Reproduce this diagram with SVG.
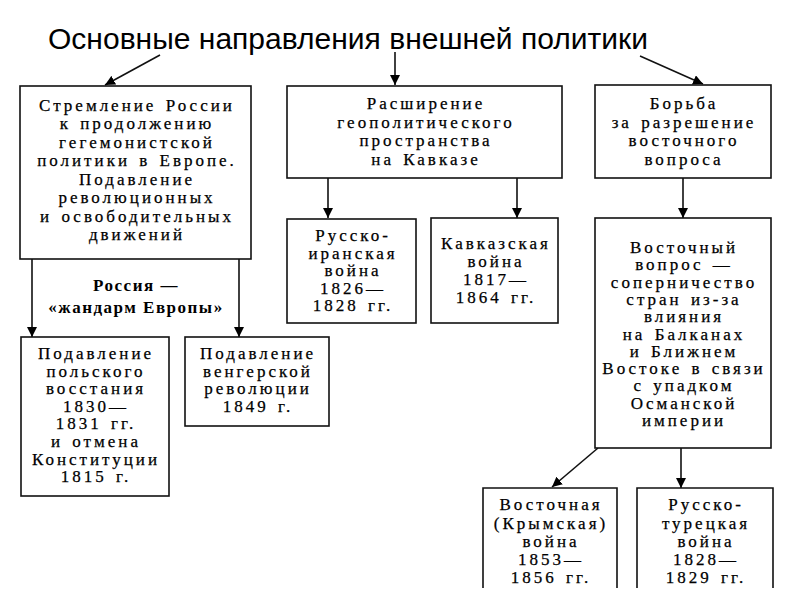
<svg xmlns="http://www.w3.org/2000/svg" width="800" height="600" viewBox="0 0 800 600">
<defs>
<marker id="ah" viewBox="0 0 10 10" refX="10" refY="5" markerWidth="10" markerHeight="10" markerUnits="userSpaceOnUse" orient="auto">
<path d="M0,0 L10,5 L0,10 Z" fill="#000"/>
</marker>
<style>
.box{fill:#fff;stroke:#111;stroke-width:1.6}
.t{font-family:"Liberation Serif","DejaVu Serif",serif;font-size:17px;letter-spacing:3px;word-spacing:2px;fill:#000;stroke:#000;stroke-width:0.25;text-anchor:middle}
.lbl{font-family:"Liberation Serif","DejaVu Serif",serif;font-size:17px;font-weight:bold;letter-spacing:1.5px;fill:#000;text-anchor:middle}
.title{font-family:"Liberation Sans",Arial,sans-serif;font-size:29px;fill:#000}
.c{stroke:#111;stroke-width:1.6;fill:none;marker-end:url(#ah)}
</style>
</defs>
<rect width="800" height="600" fill="#fff"/>
<text class="title" x="48" y="49" textLength="600" lengthAdjust="spacingAndGlyphs">Основные направления внешней политики</text>

<g id="connectors">
<line class="c" x1="160" y1="55" x2="105" y2="85"/>
<line class="c" x1="395" y1="52" x2="395" y2="85"/>
<line class="c" x1="640" y1="56" x2="703" y2="84"/>
<line class="c" x1="328" y1="178" x2="328" y2="218"/>
<line class="c" x1="517" y1="178" x2="517" y2="218"/>
<line class="c" x1="683" y1="178" x2="683" y2="218"/>
<line class="c" x1="32" y1="259" x2="32" y2="337"/>
<line class="c" x1="239" y1="259" x2="239" y2="337"/>
<line class="c" x1="598" y1="448" x2="552" y2="487"/>
<line class="c" x1="681" y1="448" x2="681" y2="488"/>
</g>

<g id="label">
<text class="lbl" x="136" y="291">Россия —</text>
<text class="lbl" x="136" y="313">«жандарм Европы»</text>
</g>

<g id="n1">
<rect class="box" x="20" y="86" width="231" height="173"/>
<text class="t" x="137" y="111">Стремление России</text>
<text class="t" x="137" y="129">к продолжению</text>
<text class="t" x="137" y="147.5">гегемонистской</text>
<text class="t" x="137" y="166">политики в Европе.</text>
<text class="t" x="137" y="184.5">Подавление</text>
<text class="t" x="137" y="203">революционных</text>
<text class="t" x="137" y="221.5">и освободительных</text>
<text class="t" x="137" y="240">движений</text>
</g>

<g id="n2">
<rect class="box" x="287" y="86" width="275" height="92"/>
<text class="t" x="426" y="109">Расширение</text>
<text class="t" x="426" y="127.5">геополитического</text>
<text class="t" x="426" y="146">пространства</text>
<text class="t" x="426" y="164.5">на Кавказе</text>
</g>

<g id="n3">
<rect class="box" x="595" y="85" width="176" height="93"/>
<text class="t" x="684" y="109">Борьба</text>
<text class="t" x="684" y="127.5">за разрешение</text>
<text class="t" x="684" y="146">восточного</text>
<text class="t" x="684" y="164.5">вопроса</text>
</g>

<g id="n4">
<rect class="box" x="287" y="219" width="129" height="104"/>
<text class="t" x="353" y="241">Русско-</text>
<text class="t" x="353" y="258.5">иранская</text>
<text class="t" x="353" y="276">война</text>
<text class="t" x="353" y="293.5">1826—</text>
<text class="t" x="353" y="311">1828 гг.</text>
</g>

<g id="n5">
<rect class="box" x="431" y="218" width="127" height="105"/>
<text class="t" x="496" y="249">Кавказская</text>
<text class="t" x="496" y="267">война</text>
<text class="t" x="496" y="285">1817—</text>
<text class="t" x="496" y="303">1864 гг.</text>
</g>

<g id="n6">
<rect class="box" x="595" y="218" width="176" height="230"/>
<text class="t" x="684" y="253">Восточный</text>
<text class="t" x="684" y="270.3">вопрос —</text>
<text class="t" x="684" y="287.6">соперничество</text>
<text class="t" x="684" y="304.9">стран из-за</text>
<text class="t" x="684" y="322.2">влияния</text>
<text class="t" x="684" y="339.5">на Балканах</text>
<text class="t" x="684" y="356.8">и Ближнем</text>
<text class="t" x="684" y="374.1">Востоке в связи</text>
<text class="t" x="684" y="391.4">с упадком</text>
<text class="t" x="684" y="408.7">Османской</text>
<text class="t" x="684" y="426">империи</text>
</g>

<g id="n7">
<rect class="box" x="21" y="337" width="148" height="159"/>
<text class="t" x="96" y="359">Подавление</text>
<text class="t" x="96" y="376.6">польского</text>
<text class="t" x="96" y="394.2">восстания</text>
<text class="t" x="96" y="411.8">1830—</text>
<text class="t" x="96" y="429.4">1831 гг.</text>
<text class="t" x="96" y="447">и отмена</text>
<text class="t" x="96" y="464.6">Конституции</text>
<text class="t" x="96" y="482.2">1815 г.</text>
</g>

<g id="n8">
<rect class="box" x="185" y="337" width="144" height="89"/>
<text class="t" x="258" y="359">Подавление</text>
<text class="t" x="258" y="376.5">венгерской</text>
<text class="t" x="258" y="394">революции</text>
<text class="t" x="258" y="411.5">1849 г.</text>
</g>

<g id="n9">
<path class="box" d="M483,588 V488 H617 V588"/>
<text class="t" x="551" y="510">Восточная</text>
<text class="t" x="551" y="528.5">(Крымская)</text>
<text class="t" x="551" y="547">война</text>
<text class="t" x="551" y="565">1853—</text>
<text class="t" x="551" y="583">1856 гг.</text>
</g>

<g id="n10">
<path class="box" d="M637,588 V488 H773 V588"/>
<text class="t" x="706" y="510">Русско-</text>
<text class="t" x="706" y="528.5">турецкая</text>
<text class="t" x="706" y="547">война</text>
<text class="t" x="706" y="565">1828—</text>
<text class="t" x="706" y="583">1829 гг.</text>
</g>
</svg>
